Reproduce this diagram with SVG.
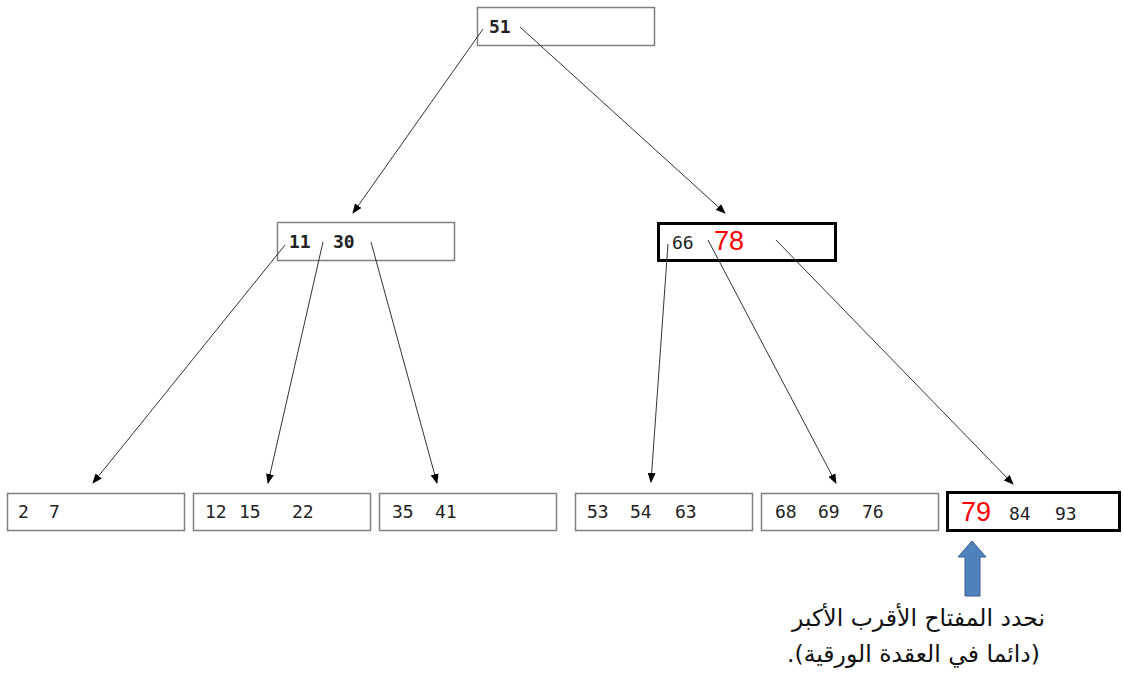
<svg xmlns="http://www.w3.org/2000/svg" width="1123" height="675" viewBox="0 0 1123 675">
<defs>
<marker id="ah" markerWidth="10" markerHeight="8" refX="9" refY="4" orient="auto" markerUnits="userSpaceOnUse">
<path d="M0,0 L10,4 L0,8 Z" fill="#000"/>
</marker>
<style>
.box{fill:#fff;stroke:#808080;stroke-width:1.5}
.bold{fill:#fff;stroke:#000;stroke-width:3}
.num{font-family:"DejaVu Sans Mono","Liberation Mono",monospace;font-size:18px;fill:#222}
.b{font-weight:bold}
.red{font-family:"Liberation Sans",Arial,sans-serif;font-size:27px;fill:#ff0000}
.edge{stroke:#333;stroke-width:1;fill:none;marker-end:url(#ah)}
.ar{font-family:"DejaVu Sans","Noto Sans",sans-serif;font-size:23.5px;fill:#111}
</style>
</defs>
<rect width="1123" height="675" fill="#fff"/>
<g id="root">
<rect class="box" x="477.5" y="7.5" width="177" height="38"/>
<text class="num b" x="489" y="33">51</text>
</g>
<g id="n1130">
<rect class="box" x="277.5" y="222.5" width="177" height="38"/>
<text class="num b" x="289" y="248">11</text>
<text class="num b" x="333" y="248">30</text>
</g>
<g id="n6678">
<rect class="bold" x="658.5" y="223.5" width="177" height="37"/>
<text class="num" x="672" y="249">66</text>
<text class="red" x="714" y="250">78</text>
</g>
<g id="l27">
<rect class="box" x="7.5" y="493.5" width="177" height="37"/>
<text class="num" x="18" y="518">2</text>
<text class="num" x="49" y="518">7</text>
</g>
<g id="l121522">
<rect class="box" x="193.5" y="493.5" width="177" height="37"/>
<text class="num" x="205" y="518">12</text>
<text class="num" x="239" y="518">15</text>
<text class="num" x="292" y="518">22</text>
</g>
<g id="l3541">
<rect class="box" x="379.5" y="493.5" width="177" height="37"/>
<text class="num" x="392" y="518">35</text>
<text class="num" x="435" y="518">41</text>
</g>
<g id="l535463">
<rect class="box" x="575.5" y="493.5" width="177" height="37"/>
<text class="num" x="587" y="518">53</text>
<text class="num" x="630" y="518">54</text>
<text class="num" x="675" y="518">63</text>
</g>
<g id="l686976">
<rect class="box" x="761.5" y="493.5" width="177" height="37"/>
<text class="num" x="775" y="518">68</text>
<text class="num" x="818" y="518">69</text>
<text class="num" x="862" y="518">76</text>
</g>
<g id="l798493">
<rect class="bold" x="947.5" y="492.5" width="172" height="38"/>
<text class="red" x="961" y="521">79</text>
<text class="num" x="1009" y="520">84</text>
<text class="num" x="1055" y="520">93</text>
</g>
<g id="edges">
<line class="edge" x1="483" y1="29" x2="353" y2="213"/>
<line class="edge" x1="520" y1="27" x2="725" y2="213"/>
<line class="edge" x1="285" y1="245" x2="93" y2="483"/>
<line class="edge" x1="323" y1="242" x2="268" y2="483"/>
<line class="edge" x1="371" y1="242" x2="437" y2="483"/>
<line class="edge" x1="668" y1="244" x2="651" y2="482"/>
<line class="edge" x1="708" y1="240" x2="836" y2="483"/>
<line class="edge" x1="776" y1="240" x2="1013" y2="484"/>
</g>
<g id="note">
<path d="M972,541 L986,557 L980,557 L980,596 L965,596 L965,557 L958,557 Z" fill="#4f81bd" stroke="#385d8a" stroke-width="1"/>
<text class="ar" x="1045" y="626" direction="rtl" text-anchor="start">نحدد المفتاح الأقرب الأكبر</text>
<text class="ar" x="1040" y="662" direction="rtl" text-anchor="start">(دائما في العقدة الورقية).</text>
</g>
</svg>
